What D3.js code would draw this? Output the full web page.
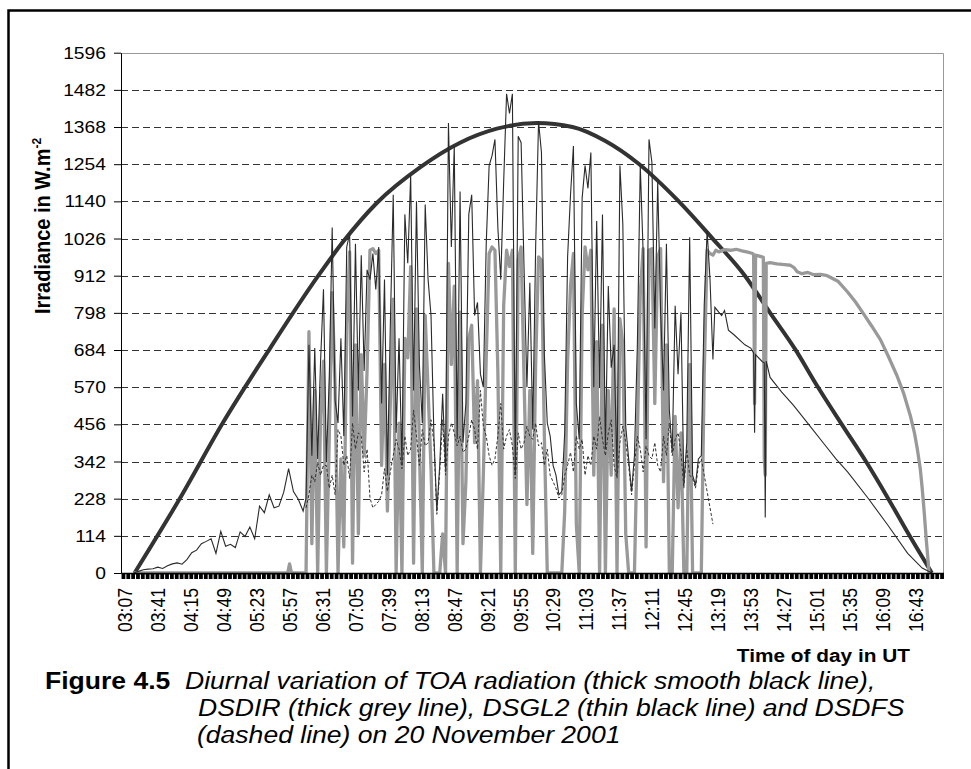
<!DOCTYPE html>
<html>
<head>
<meta charset="utf-8">
<script src="https://d3js.org/d3.v7.min.js"></script>
<style>
  body { margin: 0; background: #fff; }
  svg { display: block; font-family: "Liberation Sans", Arial, sans-serif; }
</style>
</head>
<body>
<div id="chart"></div>
<script>
/* Diurnal irradiance, 20 November 2001 */

// axis labels
const timeLabels = ["03:07", "03:41", "04:15", "04:49", "05:23", "05:57", "06:31", "07:05", "07:39",
    "08:13", "08:47", "09:21", "09:55", "10:29", "11:03", "11:37", "12:11", "12:45", "13:19",
    "13:53", "14:27", "15:01", "15:35", "16:09", "16:43"];
const yTicks = [0, 114, 228, 342, 456, 570, 684, 798, 912, 1026, 1140, 1254, 1368, 1482, 1596];

// TOA (smooth curve), [time, W/m2]
const toaPoints = [["03:17", 0], ["04:06", 240], ["04:48", 460], ["05:37", 690], ["06:25", 905],
    ["06:52", 1015], ["07:27", 1135], ["08:12", 1245], ["08:53", 1320], ["09:31", 1363],
    ["10:12", 1380], ["10:49", 1368], ["11:23", 1325], ["11:57", 1256], ["12:38", 1142],
    ["13:13", 1028], ["13:47", 912], ["14:13", 798], ["14:39", 686], ["15:02", 572],
    ["15:27", 456], ["15:52", 342], ["16:15", 228], ["16:37", 114], ["17:00", 0]];

// DSGL2 early morning, every 5 min from 03:16
const dawnStart = "03:16", dawnStep = 5;
const dsgl2Dawn = [0, 5, 10, 12, 13, 18, 14, 22, 28, 31,
    27, 41, 62, 70, 90, 97, 105, 60, 128, 82,
    88, 78, 126, 112, 141, 105, 205, 185, 240, 200,
    205, 248, 320, 250, 226, 190];

// broken cloud period, every 3 min from 06:14
const burstStart = "06:14", burstStep = 3;
const dsgl2Burst = [230, 700, 360, 690, 350, 650, 870, 340, 600, 1060,
    530, 460, 720, 420, 1000, 1040, 480, 1010, 560, 975,
    620, 930, 900, 980, 870, 1000, 520, 900, 300, 760,
    1160, 430, 720, 330, 1100, 950, 1220, 560, 1140, 640,
    460, 1130, 900, 790, 420, 190, 330, 550, 320, 1380,
    1000, 1310, 410, 1170, 400, 520, 1100, 1160, 790, 830,
    610, 570, 1010, 1250, 1280, 1330, 1060, 900, 1200, 1470,
    1410, 1470, 300, 1340, 1320, 940, 570, 890, 440, 1000,
    1385, 1290, 670, 460, 420, 330, 300, 240, 250, 430,
    970, 1160, 1310, 520, 410, 1150, 1250, 1180, 1290, 570,
    1080, 570, 1100, 380, 880, 630, 700, 300, 1250, 1070,
    450, 350, 250, 360, 700, 1250, 980, 410, 1330, 1260,
    750, 1200, 800, 560, 1010, 500, 370, 820, 610, 800,
    270, 400, 1030, 300, 270, 350, 360, 820, 1050, 900];
const dsdirBurst = [0, 740, 90, 560, 0, 480, 650, 0, 420, 860,
    570, 0, 350, 80, 760, 985, 30, 700, 120, 670,
    360, 620, 990, 995, 980, 990, 330, 640, 190, 520,
    840, 0, 460, 0, 720, 660, 940, 30, 810, 380,
    0, 790, 560, 320, 0, 0, 0, 120, 0, 950,
    640, 880, 0, 800, 90, 280, 720, 760, 400, 590,
    0, 300, 660, 980, 1000, 990, 620, 0, 820, 990,
    940, 990, 0, 960, 1000, 600, 210, 560, 60, 640,
    970, 960, 420, 0, 0, 0, 0, 0, 0, 190,
    650, 880, 980, 150, 0, 790, 1000, 930, 990, 300,
    710, 0, 760, 0, 560, 300, 810, 0, 780, 700,
    120, 0, 0, 0, 420, 860, 995, 80, 990, 995,
    520, 970, 995, 280, 700, 0, 0, 480, 200, 430,
    0, 0, 640, 0, 0, 0, 0, 610, 990, 980];
const dsdfsBurst = [200, 240, 300, 280, 340, 300, 330, 330, 260, 300,
    240, 440, 420, 330, 360, 290, 460, 380, 430, 420,
    310, 380, 230, 200, 210, 220, 240, 320, 250, 310,
    360, 410, 380, 320, 420, 360, 380, 500, 420, 330,
    440, 390, 400, 470, 400, 180, 310, 470, 300, 420,
    460, 430, 390, 420, 370, 380, 420, 470, 440, 380,
    560, 450, 420, 360, 330, 350, 420, 520, 380, 420,
    440, 390, 290, 430, 380, 400, 450, 420, 410, 460,
    390, 400, 330, 380, 300, 280, 260, 230, 240, 300,
    330, 370, 310, 420, 380, 410, 300, 360, 330, 420,
    380, 480, 410, 360, 430, 470, 330, 290, 400, 450,
    400, 330, 240, 330, 420, 380, 310, 390, 360, 350,
    400, 330, 310, 420, 360, 460, 360, 410, 430, 370,
    260, 380, 300, 290, 260, 330, 350, 300, 250, 200, 150];

// before and after the cloud period, [time, W/m2]
const dsdirDawn = [["03:16", 0], ["05:55", 0], ["05:57", 28], ["05:59", 0], ["06:11", 0]];
const dsdirDusk = [["13:14", 975], ["13:17", 990], ["13:20", 985], ["13:26", 992], ["13:32", 990],
    ["13:38", 993], ["13:44", 988], ["13:50", 984], ["13:55", 980], ["13:56", 976], ["13:57", 520],
    ["13:58", 975], ["14:02", 972], ["14:06", 968], ["14:07", 350], ["14:08", 300], ["14:09", 950],
    ["14:13", 952], ["14:20", 948], ["14:28", 946], ["14:34", 944], ["14:38", 936], ["14:41", 924],
    ["14:46", 918], ["14:52", 922], ["14:58", 915], ["15:05", 916], ["15:12", 912], ["15:23", 895],
    ["15:33", 862], ["15:41", 832], ["15:49", 797], ["15:58", 757], ["16:07", 715], ["16:15", 665],
    ["16:24", 605], ["16:31", 550], ["16:38", 480], ["16:42", 430], ["16:45", 380], ["16:48", 320],
    ["16:50", 260], ["16:52", 190], ["16:54", 110], ["16:56", 40], ["16:57", 0]];
const dsgl2Dusk = [["13:14", 655], ["13:16", 815], ["13:20", 800], ["13:23", 790], ["13:26", 805],
    ["13:30", 745], ["13:36", 730], ["13:47", 700], ["13:53", 690], ["13:56", 675], ["13:57", 430],
    ["13:58", 670], ["14:05", 648], ["14:07", 645], ["14:08", 170], ["14:09", 650], ["14:13", 600],
    ["14:25", 555], ["14:37", 515], ["14:53", 455], ["15:09", 395], ["15:21", 350], ["15:33", 310],
    ["15:54", 230], ["16:15", 145], ["16:35", 60], ["16:50", 15], ["17:00", 0]];

const captionHead = "Figure 4.5";
const captionLines = ["Diurnal variation of TOA radiation (thick smooth black line),",
    "DSDIR (thick grey line), DSGL2 (thin black line) and DSDFS",
    "(dashed line) on 20 November 2001"];

const toMin = s => +s.slice(0, 2) * 60 + +s.slice(3);
const fromPairs = arr => arr.map(([t, v]) => ({ t: toMin(t), v }));
const fromSeq = (start, step, vals) => vals.map((v, i) => ({ t: toMin(start) + i * step, v }));

const toa = fromPairs(toaPoints);
const dsgl2 = [...fromSeq(dawnStart, dawnStep, dsgl2Dawn), ...fromSeq(burstStart, burstStep, dsgl2Burst), ...fromPairs(dsgl2Dusk)];
const dsdir = [...fromPairs(dsdirDawn), ...fromSeq(burstStart, burstStep, dsdirBurst), ...fromPairs(dsdirDusk)];
const dsdfs = fromSeq(burstStart, burstStep, dsdfsBurst);

const width = 971, height = 769;
const plot = { left: 121, right: 943.5, top: 52.7, bottom: 573 };
const sx = 1.12; // text in the figure is a little wider than tall

const svg = d3.select("#chart")
    .append("svg")
    .attr("width", width)
    .attr("height", height);

// outer frame (runs off the right and bottom edges)
svg.append("rect")
    .attr("x", 8.5).attr("y", 10.5)
    .attr("width", 1000).attr("height", 800)
    .attr("fill", "none").attr("stroke", "#000").attr("stroke-width", 2.5);

let x = d3.scaleLinear()
    .domain([toMin("03:03"), toMin("17:12")])
    .range([plot.left, plot.right]);

let y = d3.scaleLinear()
    .domain([0, 1596])
    .range([plot.bottom, plot.top]);

// dashed gridlines
svg.append("g")
    .selectAll("line")
    .data(yTicks.filter(d => d > 0 && d < 1596))
    .join("line")
    .attr("x1", plot.left).attr("x2", plot.right)
    .attr("y1", d => Math.round(y(d)) + 0.5).attr("y2", d => Math.round(y(d)) + 0.5)
    .attr("stroke", "#333")
    .attr("stroke-dasharray", "7,4");

// grey plot border top and right
svg.append("path")
    .attr("d", `M${plot.left},${Math.round(plot.top) + 0.5}H${plot.right}V${plot.bottom}`)
    .attr("fill", "none")
    .attr("stroke", "#999");

const line = d3.line().x(d => x(d.t)).y(d => y(d.v));

svg.append("path")
    .datum(toa)
    .attr("fill", "none")
    .attr("stroke", "#333")
    .attr("stroke-width", 4)
    .attr("d", line.curve(d3.curveMonotoneX));

line.curve(d3.curveLinear);

svg.append("path")
    .datum(dsdir)
    .attr("fill", "none")
    .attr("stroke", "#999")
    .attr("stroke-width", 3.3)
    .attr("stroke-linejoin", "round")
    .attr("d", line);

svg.append("path")
    .datum(dsgl2)
    .attr("fill", "none")
    .attr("stroke", "#2a2a2a")
    .attr("stroke-width", 1.1)
    .attr("d", line);

svg.append("path")
    .datum(dsdfs)
    .attr("fill", "none")
    .attr("stroke", "#333")
    .attr("stroke-width", 1)
    .attr("stroke-dasharray", "3,2")
    .attr("d", line);

// dense category ticks along the time axis
svg.append("g")
    .attr("transform", `translate(0,${plot.bottom})`)
    .call(d3.axisBottom(x)
        .tickValues(d3.range(toMin("03:05"), toMin("17:12"), 5))
        .tickSize(6).tickSizeOuter(0).tickFormat(""))
    .call(g => g.selectAll(".tick line").attr("stroke", "#000").attr("stroke-width", 3.8))
    .call(g => g.select(".domain").attr("stroke", "#000").attr("stroke-width", 1.5));

// rotated time labels
svg.append("g")
    .attr("transform", `translate(0,${plot.bottom})`)
    .call(d3.axisBottom(x)
        .tickValues(timeLabels.map(toMin))
        .tickFormat((d, i) => timeLabels[i])
        .tickSize(0))
    .call(g => g.select(".domain").remove())
    .attr("font-family", null)
    .attr("font-size", 17.6)
    .selectAll("text")
    .attr("fill", "#000")
    .attr("transform", `scale(${sx},1) rotate(-90)`)
    .attr("x", -15).attr("y", 0)
    .attr("dy", "0.35em")
    .attr("text-anchor", "end");

// irradiance axis
svg.append("g")
    .attr("transform", `translate(${plot.left},0)`)
    .call(d3.axisLeft(y).tickValues(yTicks).tickFormat(d3.format("d"))
        .tickSize(7).tickPadding(8).tickSizeOuter(0))
    .call(g => g.selectAll(".tick line").attr("stroke", "#000"))
    .call(g => g.select(".domain").attr("stroke", "#000"))
    .attr("font-family", null)
    .attr("font-size", 17.2)
    .selectAll("text")
    .attr("fill", "#000")
    .attr("transform", `scale(${sx},1)`)
    .attr("x", -15 / sx);

// axis titles
let yTitle = svg.append("text")
    .attr("transform", `translate(50,226) scale(${sx},1) rotate(-90)`)
    .attr("text-anchor", "middle")
    .attr("font-weight", "bold")
    .attr("font-size", 20)
    .text("Irradiance in W.m");
yTitle.append("tspan").attr("dy", -8).attr("font-size", 12).text("-2");

svg.append("text")
    .attr("transform", `translate(910,662) scale(${sx},1)`)
    .attr("text-anchor", "end")
    .attr("font-weight", "bold")
    .attr("font-size", 18.6)
    .text("Time of day in UT");

// figure caption
svg.append("text")
    .attr("transform", `translate(45,689) scale(${sx},1)`)
    .attr("font-weight", "bold")
    .attr("font-size", 23.7)
    .text(captionHead);

const capPos = [[185, 689], [198, 716], [197, 743]];
captionLines.forEach((s, i) => {
    svg.append("text")
        .attr("transform", `translate(${capPos[i][0]},${capPos[i][1]}) scale(${sx},1)`)
        .attr("font-style", "italic")
        .attr("font-size", 23.7)
        .text(s);
});
</script>
</body>
</html>
